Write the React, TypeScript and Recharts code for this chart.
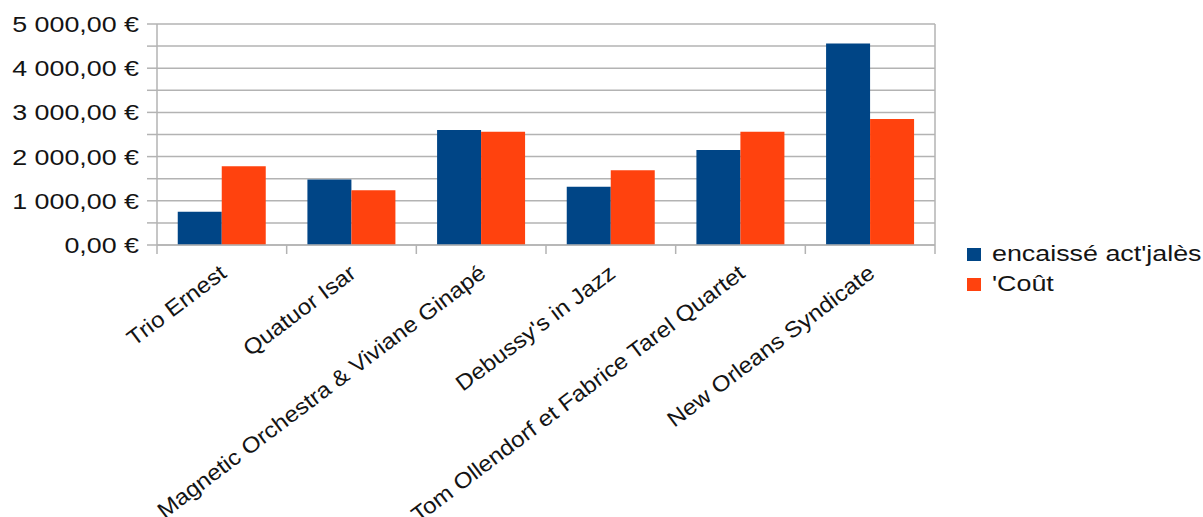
import { BarChart, Bar, XAxis, YAxis, CartesianGrid, Legend } from 'recharts'

const groups = [
  'Trio Ernest',
  'Quatuor Isar',
  'Magnetic Orchestra & Viviane Ginapé',
  "Debussy's in Jazz",
  'Tom Ollendorf et Fabrice Tarel Quartet',
  'New Orleans Syndicate',
]
const encaisse = [750, 1480, 2600, 1320, 2150, 4560]
const cout = [1780, 1240, 2560, 1690, 2560, 2850]

const seriesNames = ["encaissé act'jalès", "'Coût"]
const seriesColors = ['#004586', '#ff420e']

const yTicks = [0, 500, 1000, 1500, 2000, 2500, 3000, 3500, 4000, 4500, 5000]
const yLabelValues = [0, 1000, 2000, 3000, 4000, 5000]
const yLabels = ['0,00 €', '1 000,00 €', '2 000,00 €', '3 000,00 €', '4 000,00 €', '5 000,00 €']

const data = groups.map((name, i) => ({ name, encaisse: encaisse[i], cout: cout[i] }))

const FONT = '"Liberation Sans", Arial, sans-serif'
const TEXT = '#141414'
const GRID = '#b3b3b3'

function ValueTick({ x, y, payload }: any) {
  const idx = yLabelValues.indexOf(payload.value)
  if (idx < 0) return null
  return (
    <g transform={`translate(${x + 2},${y})`}>
      <text transform="scale(1.22,1)" textAnchor="end" dy="0.36em" fontSize={22} fontFamily={FONT} fill={TEXT}>
        {yLabels[idx]}
      </text>
    </g>
  )
}

function CategoryTick({ x, y, payload, index, width }: any) {
  const half = width / groups.length / 2
  return (
    <g>
      <line x1={x - half} y1={y} x2={x - half} y2={y + 9} stroke={GRID} strokeWidth={1.5} />
      {index === groups.length - 1 && (
        <line x1={x + half} y1={y} x2={x + half} y2={y + 9} stroke={GRID} strokeWidth={1.5} />
      )}
      <g transform={`translate(${x + 6},${y + 31}) rotate(-37)`}>
        <text transform="scale(1.1,1)" textAnchor="end" fontSize={22} fontFamily={FONT} fill={TEXT}>
          {payload.value}
        </text>
      </g>
    </g>
  )
}

function LegendBox() {
  return (
    <div style={{ fontFamily: FONT }}>
      {seriesNames.map((name, i) => (
        <div key={name} style={{ display: 'flex', alignItems: 'center', height: 30 }}>
          <span style={{ width: 14, height: 13, background: seriesColors[i], marginRight: 11, flex: 'none' }} />
          <span
            style={{
              fontSize: 22,
              display: 'inline-block',
              transform: 'scaleX(1.22)',
              transformOrigin: 'left center',
              whiteSpace: 'nowrap',
              color: TEXT,
            }}
          >
            {name}
          </span>
        </div>
      ))}
    </div>
  )
}

export default function App() {
  return (
    <div style={{ position: 'absolute', left: 0, top: 0, background: '#fff' }}>
      <BarChart
        width={1203}
        height={517}
        data={data}
        margin={{ top: 24, right: 268, left: 0, bottom: 0 }}
        barCategoryGap="16%"
        barGap={0}
      >
        <CartesianGrid
          stroke={GRID}
          strokeWidth={1.5}
          verticalCoordinatesGenerator={({ offset }: any) => [offset.left + offset.width]}
        />
        <XAxis
          dataKey="name"
          interval={0}
          height={272}
          tickSize={0}
          tickMargin={0}
          tickLine={false}
          axisLine={{ stroke: GRID, strokeWidth: 1.5 }}
          tick={<CategoryTick />}
        />
        <YAxis
          domain={[0, 5000]}
          ticks={yTicks}
          interval={0}
          width={157}
          tickSize={10}
          tickMargin={10}
          tickLine={{ stroke: GRID, strokeWidth: 1.5 }}
          axisLine={{ stroke: GRID, strokeWidth: 1.5 }}
          tick={<ValueTick />}
        />
        <Legend
          layout="vertical"
          align="center"
          verticalAlign="middle"
          content={<LegendBox />}
          wrapperStyle={{ left: 967, top: 239, width: 236 }}
        />
        <Bar dataKey="encaisse" name={seriesNames[0]} fill={seriesColors[0]} isAnimationActive={false} />
        <Bar dataKey="cout" name={seriesNames[1]} fill={seriesColors[1]} isAnimationActive={false} />
      </BarChart>
    </div>
  )
}
